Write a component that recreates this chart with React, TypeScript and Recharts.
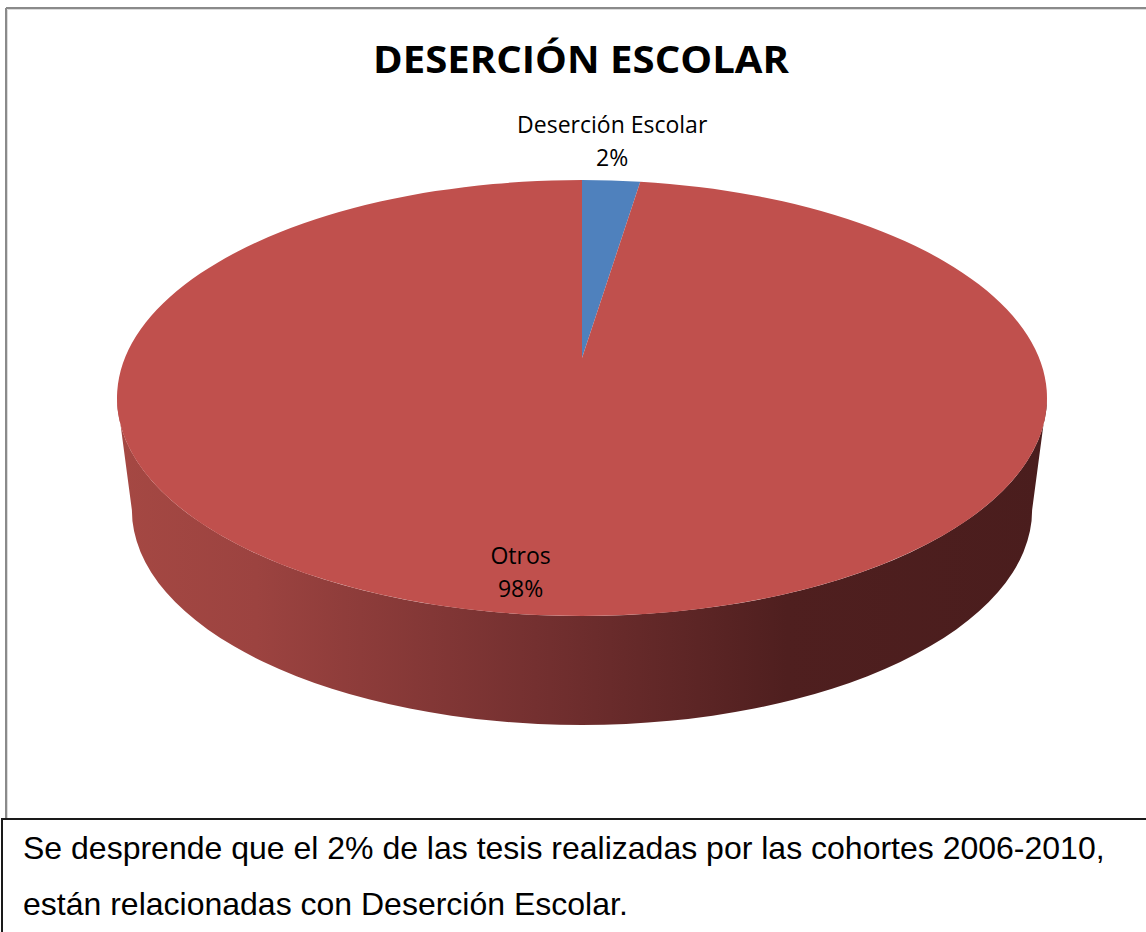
import React from 'react';
import { PieChart, Pie, Cell } from 'recharts';

const categories = ['Deserción Escolar', 'Otros'];
const values = [2, 98];
const colors = ['#4F81BD', '#C0504D'];
const titleText = 'DESERCIÓN ESCOLAR';
const captionLines = [
  'Se desprende que el 2% de las tesis realizadas por las cohortes 2006-2010,',
  'están relacionadas con Deserción Escolar.',
];

const data = categories.map((name, i) => ({ name, value: values[i] }));

const W = 1146;
const H = 932;
const CX = 582;
const CY = 398;
const R = 465;
const TILT = 218 / 465; // vertical squash of the 3D disc
const APEX_SHIFT = 40 / 218; // perspective shift of the disc centre
const DEPTH = 112;
const BOTTOM_RX = 0.968;
const BOTTOM_RY = 0.986;

const RAD = Math.PI / 180;

function pt(cx: number, cy: number, rx: number, ry: number, a: number) {
  return [cx + rx * Math.cos(a * RAD), cy - ry * Math.sin(a * RAD)];
}

function EllipseSector(props: any) {
  const { cx, cy, outerRadius, startAngle, endAngle, fill, name, payload } = props;
  const rx = outerRadius;
  const ry = outerRadius * TILT;
  const ax = cx;
  const ay = cy - ry * APEX_SHIFT;
  const [sx, sy] = pt(cx, cy, rx, ry, startAngle);
  const [ex, ey] = pt(cx, cy, rx, ry, endAngle);
  const span = Math.abs(endAngle - startAngle);
  const large = span > 180 ? 1 : 0;
  const sweep = endAngle < startAngle ? 1 : 0;
  const top = `M${ax},${ay} L${sx},${sy} A${rx},${ry} 0 ${large} ${sweep} ${ex},${ey} Z`;
  const nm = name ?? payload?.name;
  const isFront = nm === 'Otros';
  let side = null;
  if (isFront) {
    const rxb = rx * BOTTOM_RX;
    const ryb = ry * BOTTOM_RY;
    const d = `M${cx - rx},${cy} A${rx},${ry} 0 0 0 ${cx + rx},${cy} L${cx + rxb},${cy + DEPTH} A${rxb},${ryb} 0 0 1 ${cx - rxb},${cy + DEPTH} Z`;
    side = (
      <g>
        <defs>
          <linearGradient id="sideGrad" x1="0" y1="0" x2="1" y2="0">
            <stop offset="0" stopColor="#a54843" />
            <stop offset="0.15" stopColor="#9c4340" />
            <stop offset="0.45" stopColor="#743030" />
            <stop offset="0.72" stopColor="#4f1f1f" />
            <stop offset="1" stopColor="#4a1d1d" />
          </linearGradient>
        </defs>
        <path d={d} fill="url(#sideGrad)" />
      </g>
    );
  }
  return (
    <g>
      {side}
      <path d={top} fill={fill} stroke="none" />
    </g>
  );
}

function renderLabel(props: any) {
  const { cx, cy, midAngle, outerRadius, percent, name, index } = props;
  const rx = outerRadius;
  const ry = outerRadius * TILT;
  const pctText = `${Math.round(percent * 100)}%`;
  const font = { fontFamily: '"Open Sans", sans-serif', fontSize: 23, fill: '#000' };
  if (index === 0) {
    const [px, py] = pt(cx, cy, rx, ry, midAngle);
    return (
      <g>
        <text x={px + 1} y={py - 47} textAnchor="middle" {...font}>{name}</text>
        <text x={px + 1} y={py - 14} textAnchor="middle" {...font}>{pctText}</text>
      </g>
    );
  }
  const [px, py] = pt(cx, cy, rx * 0.8, ry * 0.8, midAngle);
  return (
    <g>
      <text x={px - 38} y={py - 8} textAnchor="middle" {...font}>{name}</text>
      <text x={px - 38} y={py + 25} textAnchor="middle" {...font}>{pctText}</text>
    </g>
  );
}

export default function App() {
  return (
    <div style={{ position: 'absolute', left: 0, top: 0, width: W, height: H, background: '#fff', overflow: 'hidden' }}>
      <svg width={W} height={H} style={{ position: 'absolute', left: 0, top: 0 }}>
        <line x1={6} y1={8} x2={W} y2={8} stroke="#8a8a8a" strokeWidth={2} />
        <line x1={6} y1={8} x2={6} y2={820} stroke="#8a8a8a" strokeWidth={2} />
        <line x1={7.5} y1={9.5} x2={W} y2={9.5} stroke="#dcdcdc" strokeWidth={1} />
        <line x1={7.5} y1={9.5} x2={7.5} y2={820} stroke="#dcdcdc" strokeWidth={1} />
      </svg>
      <div style={{ position: 'absolute', left: 0, top: 0 }}>
        <PieChart width={W} height={819} margin={{ top: 0, right: 0, bottom: 0, left: 0 }}>
          <Pie
            data={data}
            dataKey="value"
            nameKey="name"
            cx={CX}
            cy={CY}
            outerRadius={R}
            innerRadius={0}
            startAngle={90}
            endAngle={-270}
            stroke="none"
            shape={EllipseSector}
            label={renderLabel}
            labelLine={false}
            isAnimationActive={false}
          >
            {data.map((d, i) => (
              <Cell key={d.name} fill={colors[i]} />
            ))}
          </Pie>
        </PieChart>
      </div>
      <svg width={W} height={H} style={{ position: 'absolute', left: 0, top: 0, pointerEvents: 'none' }}>
        <text x={581} y={73} textAnchor="middle" fontFamily='"Open Sans", sans-serif' fontWeight="bold" fontSize={38} textLength={416} lengthAdjust="spacingAndGlyphs" fill="#000">
          {titleText}
        </text>
        <rect x={2} y={819} width={W + 10} height={H} fill="#fff" stroke="#1a1a1a" strokeWidth={2} />
        <text x={23} y={859} fontFamily='"Liberation Sans", Arial, sans-serif' fontSize={32} fill="#000">
          {captionLines[0]}
        </text>
        <text x={23} y={915} fontFamily='"Liberation Sans", Arial, sans-serif' fontSize={32} fill="#000">
          {captionLines[1]}
        </text>
      </svg>
    </div>
  );
}
